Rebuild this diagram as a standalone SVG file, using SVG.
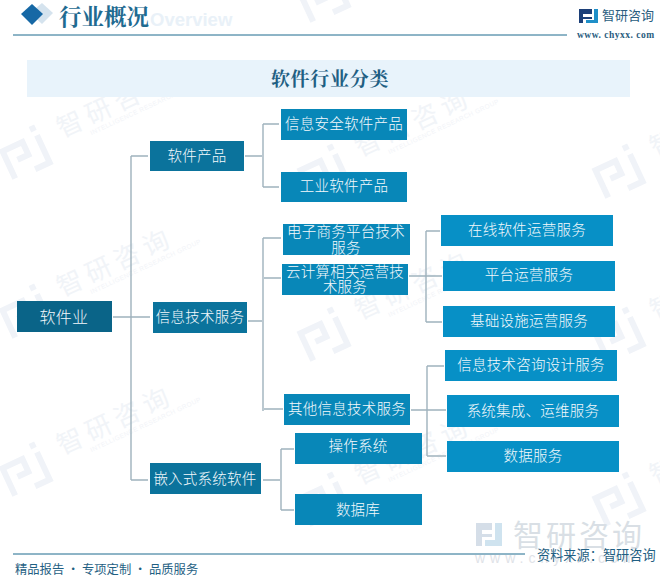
<svg xmlns="http://www.w3.org/2000/svg" width="660" height="585" viewBox="0 0 660 585">
<style>
text{font-family:"Noto Sans CJK SC","Noto Sans",sans-serif}
.n{fill:#f4f9fc;font-size:14.5px;text-anchor:middle;letter-spacing:.25px;font-weight:300}
.l0{fill:#0a6488}.l1{fill:#0b739c}.l2{fill:#0887b8}.l3{fill:#0790c6}
.c{fill:none;stroke:#9fb2bd;stroke-width:1.4}
.wm{fill:#f1f4f8;font-size:26px;letter-spacing:5.5px}
.ws{fill:#f2f4f8;font-size:6.5px;letter-spacing:.4px;font-family:"Liberation Sans",sans-serif}
.wi{fill:none;stroke:#f0f3f8;stroke-width:6}
.rule{stroke:#1c6a8e;stroke-width:1}
.serif{font-family:"Noto Serif CJK SC","Noto Sans CJK SC",serif}
</style>
<defs>
<g id="wm">
<g transform="rotate(-25)"><path class="wi" d="M-26 16V-14H-4V0H-16M-4 16H12V-14M8 -22H14"/></g>
<g transform="translate(30 -15) rotate(-25)"><text class="wm">智研咨询</text><text class="ws" x="28" y="10">INTELLIGENCE RESEARCH GROUP</text></g>
</g>
</defs>
<rect width="660" height="585" fill="#fff"/>
<g id="watermarks">
<use href="#wm" x="32" y="153"/><use href="#wm" x="32" y="312"/><use href="#wm" x="32" y="470"/>
<use href="#wm" x="330" y="-4"/><use href="#wm" x="330" y="172"/><use href="#wm" x="330" y="335"/><use href="#wm" x="330" y="500"/>
<use href="#wm" x="625" y="172"/><use href="#wm" x="625" y="335"/><use href="#wm" x="625" y="500"/>
</g>
<g id="header">
<path d="M42 3L53 13L42 24L30 13Z" fill="#d5e3ee"/>
<path d="M32 4L43 14L32 25L21 14Z" fill="#1668a5"/>
<text x="150" y="26" font-size="18.500" fill="#e9f1f8" font-weight="700" style="font-family:'Liberation Sans',sans-serif">Overview</text>
<text class="serif" x="59" y="25" font-size="22.500" font-weight="700" fill="#1f6b91">行业概况</text>
<line class="rule" x1="13" y1="35" x2="567" y2="35"/>
<path d="M579 9H592V14H583V17H592V19H583V23H579Z" fill="#1c3f78"/><path d="M594 9H598V23H586V20H594Z" fill="#1f8fc8"/>
<text x="602" y="20" font-size="13" fill="#2a5d80">智研咨询</text>
<text x="577" y="38" font-size="9.500" fill="#2a5d80" font-weight="700" style="font-family:'Liberation Serif',serif" letter-spacing=".5">www. chyxx. com</text>
</g>
<g id="title">
<rect x="27" y="60" width="603" height="37" fill="#e8f3fb"/>
<text class="serif" x="330" y="86" font-size="19" font-weight="700" fill="#1f5f83" text-anchor="middle" letter-spacing=".7">软件行业分类</text>
</g>
<g id="connectors">
<path class="c" d="M113 317H150M131 156V480M131 156H148M131 480H148"/>
<path class="c" d="M245 156H262M263 124V187M263 124H279M263 187H279"/>
<path class="c" d="M248 321H262M263 238V411M263 238H281M264 278H281M264 409H283"/>
<path class="c" d="M263 480H280M281 449V510M281 449H294M281 510H294"/>
<path class="c" d="M409 276H441M426 231V322M426 231H440M426 276H442M426 322H442"/>
<path class="c" d="M411 410H443M427 366V456M427 366H444M427 410H446M427 456H446"/>
</g>
<g id="n1"><rect class="l0" x="17" y="301" width="95" height="31"/><text class="n" x="64" y="323" style="font-size:16px">软件业</text></g>
<g id="n2"><rect class="l1" x="150" y="141" width="94" height="30"/><text class="n" x="197" y="161">软件产品</text></g>
<g id="n3"><rect class="l1" x="153" y="302" width="94" height="31"/><text class="n" x="200" y="322">信息技术服务</text></g>
<g id="n4"><rect class="l1" x="150" y="463" width="111" height="31"/><text class="n" x="205" y="484">嵌入式系统软件</text></g>
<g id="n5"><rect class="l2" x="281" y="109" width="126" height="31"/><text class="n" x="344" y="129">信息安全软件产品</text></g>
<g id="n6"><rect class="l2" x="281" y="172" width="126" height="30"/><text class="n" x="344" y="191">工业软件产品</text></g>
<g id="n7"><rect class="l2" x="283" y="224" width="127" height="31"/><text class="n" x="346" y="237">电子商务平台技术</text><text class="n" x="346" y="253">服务</text></g>
<g id="n8"><rect class="l2" x="282" y="264" width="126" height="31"/><text class="n" x="345" y="277">云计算相关运营技</text><text class="n" x="345" y="292">术服务</text></g>
<g id="n9"><rect class="l2" x="284" y="394" width="126" height="31"/><text class="n" x="347" y="414">其他信息技术服务</text></g>
<g id="n10"><rect class="l2" x="295" y="433" width="127" height="31"/><text class="n" x="358" y="451">操作系统</text></g>
<g id="n11"><rect class="l2" x="295" y="494" width="127" height="31"/><text class="n" x="358" y="515">数据库</text></g>
<g id="n12"><rect class="l3" x="441" y="215" width="172" height="31"/><text class="n" x="527" y="235">在线软件运营服务</text></g>
<g id="n13"><rect class="l3" x="443" y="261" width="172" height="30"/><text class="n" x="529" y="280">平台运营服务</text></g>
<g id="n14"><rect class="l3" x="443" y="306" width="172" height="31"/><text class="n" x="529" y="326">基础设施运营服务</text></g>
<g id="n15"><rect class="l3" x="445" y="350" width="172" height="31"/><text class="n" x="531" y="370">信息技术咨询设计服务</text></g>
<g id="n16"><rect class="l3" x="447" y="395" width="172" height="32"/><text class="n" x="533" y="416">系统集成、运维服务</text></g>
<g id="n17"><rect class="l3" x="447" y="441" width="172" height="31"/><text class="n" x="533" y="461">数据服务</text></g>
<g id="footer">
<path d="M476 523H492V530H482V534H492V537H482V546H476Z" fill="#d5dee8"/><path d="M495 523H502V546H485V540H495Z" fill="#cfe3ef"/>
<text x="513" y="546" font-size="30" fill="#d9dfe5" letter-spacing="3">智研咨询</text>
<text x="475" y="563" font-size="14" fill="#dfe3e8" letter-spacing="5" style="font-family:'Liberation Sans',sans-serif">www.chyxx.com</text>
<line class="rule" x1="13" y1="554" x2="525" y2="554"/>
<text x="15" y="574" font-size="12.300" fill="#1f5f83">精品报告 · 专项定制 · 品质服务</text>
<text x="537" y="560" font-size="13.200" fill="#1f5f83">资料来源：智研咨询</text>
</g>
</svg>
